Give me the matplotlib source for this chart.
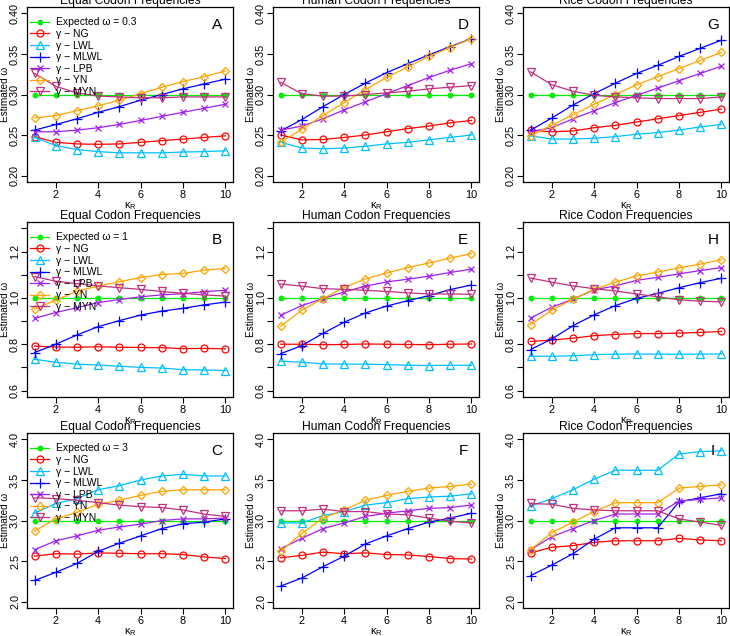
import matplotlib.pyplot as plt

plt.rcParams['font.family'] = ['Liberation Sans', 'DejaVu Sans']
plt.rcParams['mathtext.default'] = 'regular'

kappa = [1, 2, 3, 4, 5, 6, 7, 8, 9, 10]
methods = ["NG", "LWL", "MLWL", "LPB", "YN", "MYN"]
expected = [0.3, 1, 3]
col_titles = ["Equal Codon Frequencies", "Human Codon Frequencies", "Rice Codon Frequencies"]
panel_letters = [["A", "D", "G"], ["B", "E", "H"], ["C", "F", "I"]]

# omega = 0.3
A_NG = [0.248, 0.241, 0.239, 0.2385, 0.239, 0.241, 0.243, 0.245, 0.247, 0.249]
A_LWL = [0.247, 0.237, 0.232, 0.2295, 0.228, 0.228, 0.228, 0.229, 0.2295, 0.2305]
A_MLWL = [0.256, 0.263, 0.270, 0.278, 0.285, 0.293, 0.300, 0.307, 0.313, 0.319]
A_LPB = [0.254, 0.254, 0.256, 0.259, 0.263, 0.268, 0.273, 0.278, 0.283, 0.288]
A_YN = [0.271, 0.274, 0.280, 0.286, 0.293, 0.301, 0.309, 0.316, 0.322, 0.329]
A_MYN = [0.326, 0.310, 0.302, 0.298, 0.297, 0.296, 0.296, 0.297, 0.297, 0.297]

D_NG = [0.250, 0.244, 0.2445, 0.247, 0.250, 0.254, 0.258, 0.261, 0.265, 0.268]
D_LWL = [0.241, 0.234, 0.233, 0.234, 0.236, 0.239, 0.241, 0.244, 0.247, 0.250]
D_MLWL = [0.255, 0.269, 0.285, 0.300, 0.314, 0.327, 0.338, 0.349, 0.359, 0.369]
D_LPB = [0.256, 0.261, 0.270, 0.281, 0.291, 0.301, 0.311, 0.321, 0.330, 0.338]
D_YN = [0.241, 0.257, 0.274, 0.290, 0.306, 0.321, 0.334, 0.347, 0.358, 0.369]
D_MYN = [0.315, 0.301, 0.298, 0.298, 0.300, 0.302, 0.304, 0.307, 0.309, 0.311]

G_NG = [0.256, 0.254, 0.255, 0.259, 0.262, 0.266, 0.270, 0.274, 0.278, 0.282]
G_LWL = [0.249, 0.245, 0.245, 0.246, 0.248, 0.251, 0.253, 0.256, 0.260, 0.263]
G_MLWL = [0.256, 0.271, 0.287, 0.301, 0.314, 0.326, 0.336, 0.347, 0.357, 0.367]
G_LPB = [0.254, 0.259, 0.270, 0.280, 0.290, 0.299, 0.308, 0.317, 0.326, 0.335]
G_YN = [0.249, 0.262, 0.275, 0.288, 0.300, 0.312, 0.322, 0.332, 0.342, 0.352]
G_MYN = [0.328, 0.312, 0.304, 0.299, 0.297, 0.296, 0.295, 0.295, 0.295, 0.297]

# omega = 1
B_NG = [0.792, 0.788, 0.787, 0.789, 0.787, 0.786, 0.785, 0.781, 0.782, 0.780]
B_LWL = [0.735, 0.722, 0.714, 0.710, 0.705, 0.700, 0.697, 0.690, 0.689, 0.686]
B_MLWL = [0.764, 0.800, 0.840, 0.876, 0.902, 0.926, 0.943, 0.955, 0.970, 0.982]
B_LPB = [0.912, 0.937, 0.958, 0.980, 0.993, 1.005, 1.013, 1.018, 1.027, 1.033]
B_YN = [0.952, 0.990, 1.030, 1.051, 1.070, 1.088, 1.101, 1.106, 1.120, 1.127]
B_MYN = [1.092, 1.072, 1.062, 1.052, 1.044, 1.037, 1.028, 1.020, 1.013, 1.008]

E_NG = [0.800, 0.800, 0.798, 0.799, 0.801, 0.800, 0.799, 0.798, 0.800, 0.801]
E_LWL = [0.727, 0.722, 0.715, 0.714, 0.714, 0.712, 0.709, 0.708, 0.709, 0.709]
E_MLWL = [0.759, 0.794, 0.847, 0.895, 0.935, 0.965, 0.988, 1.010, 1.036, 1.056]
E_LPB = [0.925, 0.967, 0.997, 1.026, 1.051, 1.069, 1.081, 1.094, 1.110, 1.124]
E_YN = [0.877, 0.947, 0.997, 1.045, 1.082, 1.108, 1.131, 1.151, 1.172, 1.191]
E_MYN = [1.060, 1.051, 1.040, 1.037, 1.033, 1.028, 1.022, 1.017, 1.017, 1.016]

H_NG = [0.812, 0.818, 0.826, 0.837, 0.842, 0.846, 0.846, 0.848, 0.851, 0.855]
H_LWL = [0.748, 0.748, 0.750, 0.755, 0.757, 0.758, 0.757, 0.757, 0.757, 0.758]
H_MLWL = [0.777, 0.823, 0.880, 0.927, 0.967, 0.998, 1.020, 1.044, 1.066, 1.085]
H_LPB = [0.913, 0.960, 0.995, 1.035, 1.052, 1.076, 1.089, 1.104, 1.118, 1.131]
H_YN = [0.885, 0.947, 0.995, 1.037, 1.068, 1.095, 1.112, 1.130, 1.146, 1.165]
H_MYN = [1.086, 1.068, 1.052, 1.040, 1.030, 1.017, 1.005, 0.992, 0.986, 0.983]

# omega = 3
C_NG = [2.56, 2.59, 2.585, 2.60, 2.595, 2.59, 2.59, 2.58, 2.55, 2.53]
C_LWL = [3.09, 3.21, 3.27, 3.38, 3.43, 3.50, 3.55, 3.57, 3.55, 3.55]
C_MLWL = [2.26, 2.36, 2.47, 2.62, 2.72, 2.81, 2.90, 2.96, 2.98, 3.02]
C_LPB = [2.64, 2.75, 2.81, 2.88, 2.92, 2.955, 3.00, 3.02, 3.02, 3.03]
C_YN = [2.87, 3.02, 3.10, 3.20, 3.25, 3.31, 3.36, 3.38, 3.38, 3.38]
C_MYN = [3.28, 3.27, 3.25, 3.22, 3.19, 3.17, 3.16, 3.13, 3.08, 3.05]

F_NG = [2.54, 2.57, 2.61, 2.59, 2.60, 2.58, 2.575, 2.555, 2.53, 2.525]
F_LWL = [2.97, 2.97, 3.06, 3.11, 3.19, 3.22, 3.27, 3.29, 3.30, 3.33]
F_MLWL = [2.19, 2.29, 2.43, 2.56, 2.71, 2.81, 2.90, 2.98, 3.03, 3.09]
F_LPB = [2.65, 2.78, 2.90, 2.97, 3.05, 3.09, 3.12, 3.15, 3.16, 3.19]
F_YN = [2.62, 2.84, 3.03, 3.13, 3.25, 3.31, 3.36, 3.40, 3.42, 3.45]
F_MYN = [3.12, 3.12, 3.14, 3.11, 3.11, 3.08, 3.07, 3.03, 2.99, 2.97]

I_NG = [2.60, 2.67, 2.69, 2.73, 2.75, 2.75, 2.75, 2.78, 2.76, 2.75]
I_LWL = [3.18, 3.27, 3.38, 3.51, 3.62, 3.62, 3.62, 3.82, 3.85, 3.86]
I_MLWL = [2.32, 2.45, 2.59, 2.77, 2.91, 2.91, 2.91, 3.23, 3.28, 3.33]
I_LPB = [2.64, 2.80, 2.90, 3.00, 3.08, 3.08, 3.08, 3.24, 3.26, 3.28]
I_YN = [2.64, 2.85, 2.98, 3.11, 3.22, 3.22, 3.22, 3.40, 3.42, 3.44]
I_MYN = [3.21, 3.20, 3.15, 3.13, 3.12, 3.12, 3.12, 3.02, 2.98, 2.94]

panels = [
    [[A_NG, A_LWL, A_MLWL, A_LPB, A_YN, A_MYN],
     [D_NG, D_LWL, D_MLWL, D_LPB, D_YN, D_MYN],
     [G_NG, G_LWL, G_MLWL, G_LPB, G_YN, G_MYN]],
    [[B_NG, B_LWL, B_MLWL, B_LPB, B_YN, B_MYN],
     [E_NG, E_LWL, E_MLWL, E_LPB, E_YN, E_MYN],
     [H_NG, H_LWL, H_MLWL, H_LPB, H_YN, H_MYN]],
    [[C_NG, C_LWL, C_MLWL, C_LPB, C_YN, C_MYN],
     [F_NG, F_LWL, F_MLWL, F_LPB, F_YN, F_MYN],
     [I_NG, I_LWL, I_MLWL, I_LPB, I_YN, I_MYN]],
]

colors = ["#ff0000", "#00bfff", "#0000ff", "#a020f0", "#ffa500", "#c0307f"]
markers = ["o", "^", "+", "x", "D", "v"]
msizes = [5, 5.5, 7, 5, 4.5, 5.5]

ylims = [(0.2, 0.4), (0.6, 1.3), (2.0, 4.0)]
yticks = [[0.20, 0.25, 0.30, 0.35, 0.40],
          [0.6, 0.7, 0.8, 0.9, 1.0, 1.1, 1.2, 1.3],
          [2.0, 2.5, 3.0, 3.5, 4.0]]
ylabels = [["0.20", "0.25", "0.30", "0.35", "0.40"],
           ["0.6", "", "0.8", "", "1.0", "", "1.2", ""],
           ["2.0", "2.5", "3.0", "3.5", "4.0"]]

W, H = 730, 636
fig = plt.figure(figsize=(W / 100, H / 100), dpi=100)

col_left = [27, 273, 523]
row_top = [7, 222, 433]
aw, ah = 206, 175

for r in range(3):
    for c in range(3):
        l, t = col_left[c], row_top[r]
        ax = fig.add_axes([l / W, 1 - (t + ah) / H, aw / W, ah / H])
        exp_line = [expected[r]] * len(kappa)
        exp_lab = "Expected ω = " + ("%g" % expected[r])
        ax.plot(kappa, exp_line, color="#00ee00", marker="o", ms=3.2,
                lw=0.9, label=exp_lab)
        for i, vals in enumerate(panels[r][c]):
            ax.plot(kappa, vals, color=colors[i], marker=markers[i],
                    ms=msizes[i], mfc="none", mew=0.9, lw=0.9,
                    label="γ − " + methods[i])

        lo, hi = ylims[r]
        pad = (hi - lo) * 0.04
        ax.set_ylim(lo - pad, hi + pad)
        ax.set_xlim(1 - 0.36, 10 + 0.36)
        ax.set_xticks([2, 4, 6, 8, 10])
        ax.set_yticks(yticks[r])
        ax.set_yticklabels(ylabels[r], rotation=90, va="center")
        ax.tick_params(direction="out", length=4.5, width=0.8, labelsize=7.8)
        ax.tick_params(axis="x", pad=1.5)
        ax.tick_params(axis="y", pad=0.5)
        for s in ax.spines.values():
            s.set_linewidth(0.9)

        ax.set_title(col_titles[c], fontsize=8.7, pad=1)
        ax.set_xlabel(r"$\kappa_R$", fontsize=7.8, labelpad=0)
        ax.set_ylabel("Estimated ω", fontsize=7.2, va="center")
        ax.yaxis.set_label_coords(-0.105, 0.5)
        ax.text(0.922, 0.895, panel_letters[r][c], transform=ax.transAxes,
                fontsize=11, ha="center", va="center")

        if c == 0:
            ax.legend(loc="upper left", frameon=False, fontsize=7.5,
                      bbox_to_anchor=(0.0, 0.955), borderaxespad=0,
                      labelspacing=0.15, handlelength=1.9,
                      handletextpad=0.65, borderpad=0.25)

fig.savefig("out.png", dpi=100)
